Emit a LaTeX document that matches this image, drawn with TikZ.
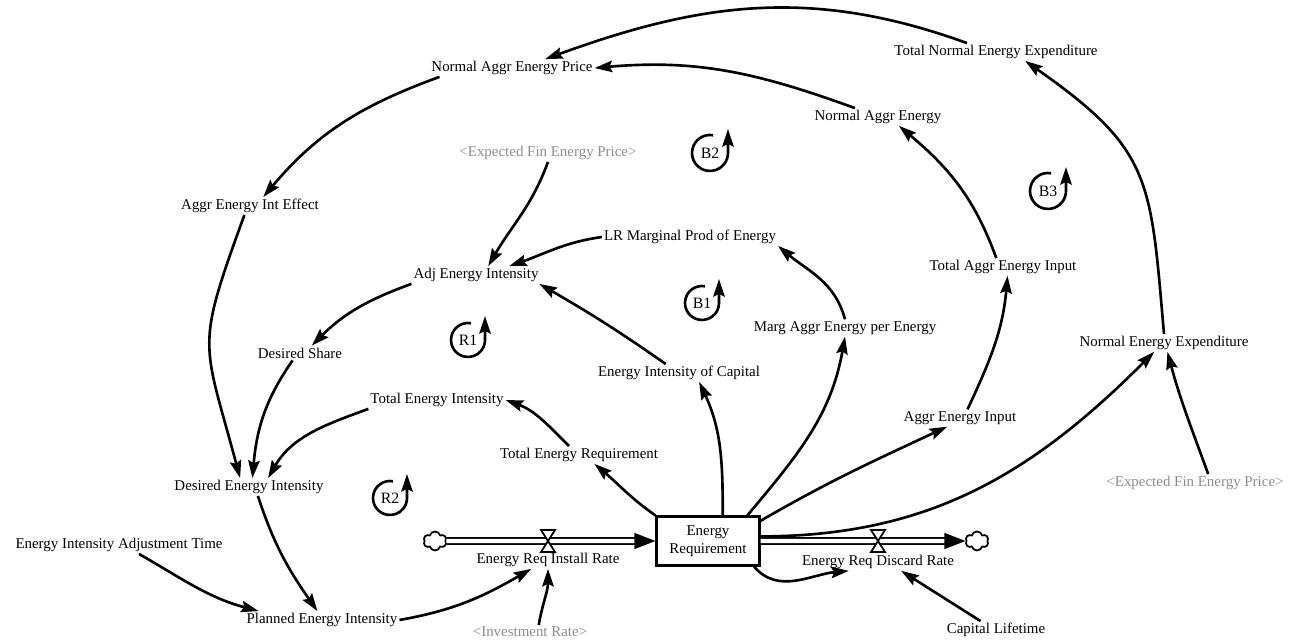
\documentclass[tikz,border=0pt]{standalone}
\usepackage{fontspec}
\setmainfont{Liberation Serif}
\usepackage{tikz}
\usetikzlibrary{calc,positioning,arrows.meta,shapes.symbols}

\begin{document}
\begin{tikzpicture}[x=0.02cm, y=0.02cm,
	var/.style={inner sep=1pt, font=\fontsize{8.5}{10}\selectfont},
	shadowvar/.style={var, text=black!45},
	link/.style={line width=1.5pt, -{Stealth[length=10pt, width=6.5pt, inset=1.5pt]}},
	pipe/.style={line width=1pt, double, double distance=2.4pt, -{Triangle[length=12pt, width=9pt]}},
	stock/.style={draw, line width=1.2pt, minimum width=2.06cm, minimum height=0.98cm, align=center, inner sep=1pt, font=\fontsize{8.5}{10}\selectfont},
	cloudy/.style={cloud, cloud puffs=6, draw, line width=1pt, fill=white, inner sep=0pt, minimum width=0.46cm, minimum height=0.38cm},
	valve/.style={draw, line width=1pt, fill=white},
	looplabel/.style={inner sep=0pt, font=\fontsize{9}{10}\selectfont},
	loopline/.style={line width=1.5pt, -{Stealth[length=10pt, width=6.5pt, inset=1.5pt]}}]

	\useasboundingbox (0, 0) rectangle (1294, 641);

	% variables
	\node[var] (nagp) at (512, 573) {Normal Aggr Energy Price};
	\node[var] (tnee) at (996, 589) {Total Normal Energy Expenditure};
	\node[var] (nae) at (878, 524) {Normal Aggr Energy};
	\node[shadowvar] (efepA) at (548, 488) {<Expected Fin Energy Price>};
	\node[var] (aeie) at (250, 435) {Aggr Energy Int Effect};
	\node[var] (lrmp) at (690, 404) {LR Marginal Prod of Energy};
	\node[var] (aei) at (476, 366) {Adj Energy Intensity};
	\node[var] (taei) at (1003, 374) {Total Aggr Energy Input};
	\node[var] (maepe) at (845, 313) {Marg Aggr Energy per Energy};
	\node[var] (ds) at (300, 288) {Desired Share};
	\node[var] (nee) at (1164, 298) {Normal Energy Expenditure};
	\node[var] (eic) at (679, 268) {Energy Intensity of Capital};
	\node[var] (tei) at (437, 241) {Total Energy Intensity};
	\node[var] (ter) at (579, 186) {Total Energy Requirement};
	\node[var] (aein) at (960, 223) {Aggr Energy Input};
	\node[var] (dei) at (249, 154) {Desired Energy Intensity};
	\node[shadowvar] (efepB) at (1195, 158) {<Expected Fin Energy Price>};
	\node[var] (eiat) at (119, 96) {Energy Intensity Adjustment Time};
	\node[var] (pei) at (322, 21) {Planned Energy Intensity};
	\node[shadowvar] (ir) at (530, 9) {<Investment Rate>};
	\node[var] (cl) at (996, 11) {Capital Lifetime};

	% stock and flows
	\node[stock] (er) at (708, 100) {Energy\\Requirement};
	\node[cloudy] (src) at (435, 100) {};
	\node[cloudy] (sink) at (977, 100) {};
	\coordinate (vin) at (548, 100);
	\coordinate (vout) at (878, 100);
	\draw[pipe] (src) -- (er);
	\draw[pipe] (er) -- (sink);
	\draw[valve] ($(vin) + (-7, 11)$) -- ++(14, 0) -- ++(-14, -22) -- ++(14, 0) -- cycle;
	\draw[valve] ($(vout) + (-7, 11)$) -- ++(14, 0) -- ++(-14, -22) -- ++(14, 0) -- cycle;
	\node[var] (eiri) at ($(vin) + (0, -19)$) {Energy Req Install Rate};
	\node[var] (erdr) at ($(vout) + (0, -21)$) {Energy Req Discard Rate};

	% loops
	\foreach \lp/\lx/\ly/\lr in {B2/710/488/0.36cm, B3/1048/450/0.36cm, B1/702/338/0.34cm, R1/468/301/0.34cm, R2/390/143/0.34cm} {
		\node[looplabel] (\lp) at (\lx, \ly) {\lp};
		\draw[loopline] (\lp) ++(80:\lr) arc (80:360:\lr) -- ++(0, 24);
	}

	% links
	\draw[link] (tnee.163) to[out=160, in=20] (nagp.15);
	\draw[link] (nae.159) to[out=160, in=5] (nagp.east);
	\draw[link] (nagp.187) to[out=200, in=50] (aeie.34);
	\draw[link] (aeie.238) to[out=250, in=105, looseness=1.4] (dei.135);
	\draw[link] (aei.south west) to[out=200, in=45] (ds.32);
	\draw[link] (ds.225) to[out=235, in=85] (dei.69);
	\draw[link] (tei.south west) to[out=200, in=60] (dei.25);
	\draw[link] (ter.138) to[out=135, in=-20] (tei.east);
	\draw[link] (er.north west) to[out=145, in=-40] (ter.330);
	\draw[link] (er.60) to[out=90, in=-65] (eic.336);
	\draw[link] (eic.146) to[out=145, in=-30] (aei.352);
	\draw[link] (efepA.south) to[out=250, in=60] (aei.36);
	\draw[link] (lrmp.west) to[out=188, in=19] (aei.15);
	\draw[link] (maepe.north) to[out=105, in=-40] (lrmp.south east);
	\draw[link] (er.33) to[out=50, in=-100] (maepe.south);
	\draw[link] (er.21) to[out=30, in=205] (aein.214);
	\draw[link] (aein.49) to[out=65, in=-95] (taei.297);
	\draw[link] (taei.127) to[out=110, in=-40] (nae.337);
	\draw[link] (nee.north) to[out=95, in=-35, looseness=1.3] (tnee.343);
	\draw[link] (er.5) to[out=0, in=225] (nee.222);
	\draw[link] (efepB.34) to[out=110, in=-75] (nee.291);
	\draw[link] (er.331) to[out=-50, in=185] (erdr.197);
	\draw[link] (cl.150) -- (erdr.339);
	\draw[link] (pei.east) to[out=10, in=210] (eiri.208);
	\draw[link] (ir.39) to[out=80, in=-90] (eiri.south);
	\draw[link] (eiat.336) to[out=-30, in=165] (pei.172);
	\draw[link] (dei.315) to[out=-72, in=125] (pei.117);

\end{tikzpicture}
\end{document}
